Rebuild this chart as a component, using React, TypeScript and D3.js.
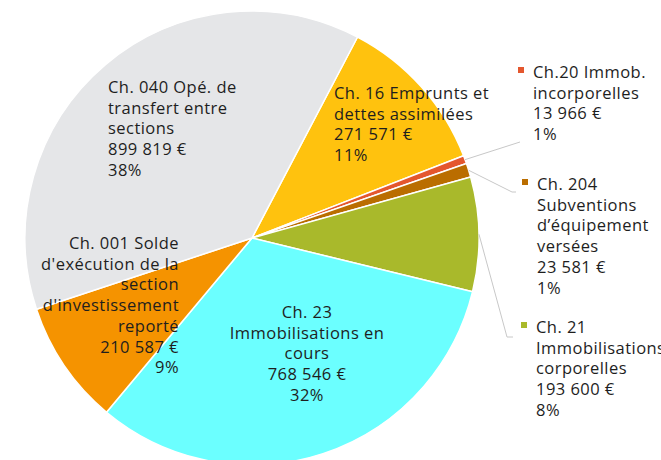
import React from "react";
import * as d3 from "d3";

const categories = [
  "Ch. 16 Emprunts et dettes assimilées",
  "Ch.20 Immob. incorporelles",
  "Ch. 204 Subventions d’équipement versées",
  "Ch. 21 Immobilisations corporelles",
  "Ch. 23 Immobilisations en cours",
  "Ch. 001 Solde d'exécution de la section d'investissement reporté",
  "Ch. 040 Opé. de transfert entre sections",
];
const values = [271571, 13966, 23581, 193600, 768546, 210587, 899819];
const valueLabels = ["271 571 €", "13 966 €", "23 581 €", "193 600 €", "768 546 €", "210 587 €", "899 819 €"];
const percentLabels = ["11%", "1%", "1%", "8%", "32%", "9%", "38%"];
const nameLines = [
  ["Ch. 16 Emprunts et", "dettes assimilées"],
  ["Ch.20 Immob.", "incorporelles"],
  ["Ch. 204", "Subventions", "d’équipement", "versées"],
  ["Ch. 21", "Immobilisations", "corporelles"],
  ["Ch. 23", "Immobilisations en", "cours"],
  ["Ch. 001 Solde", "d'exécution de la", "section", "d'investissement", "reporté"],
  ["Ch. 040 Opé. de", "transfert entre", "sections"],
];
const colors = ["#FFC20E", "#E4572E", "#BA6D00", "#A9B92B", "#6BFFFF", "#F59300", "#E5E6E8"];

// layout (not data)
const W = 661, H = 460;
const cx = 252, cy = 238, R = 227;
const startDeg = 27.7;
const FONT = "'Open Sans', sans-serif";
const FS = 16.5;
const LS = 0.45;
const LH = 20.7;

type Lbl = { x: number; y: number; anchor: "start" | "middle" | "end"; outside?: boolean; elbow?: [number, number][] };
const labelLayout: Lbl[] = [
  { x: 334, y: 99, anchor: "start" },
  { x: 533, y: 78, anchor: "start", outside: true, elbow: [[520, 142]] },
  { x: 537, y: 190, anchor: "start", outside: true, elbow: [[512, 192], [516, 192]] },
  { x: 536, y: 333, anchor: "start", outside: true, elbow: [[507, 337], [513, 337]] },
  { x: 307, y: 318, anchor: "middle" },
  { x: 179, y: 249, anchor: "end" },
  { x: 108, y: 93, anchor: "start" },
];

export default function App() {
  const pie = d3
    .pie<number>()
    .sort(null)
    .startAngle((startDeg * Math.PI) / 180)
    .endAngle((startDeg * Math.PI) / 180 + 2 * Math.PI);
  const arcs = pie(values);
  const arc = d3.arc<d3.PieArcDatum<number>>().innerRadius(0).outerRadius(R);

  return (
    <svg width={W} height={H} style={{ position: "absolute", left: 0, top: 0 }}>
      <g transform={`translate(${cx},${cy})`}>
        {arcs.map((a, i) => (
          <path key={i} d={arc(a) || ""} fill={colors[i]} stroke="#fff" strokeWidth={1.5} strokeLinejoin="round" />
        ))}
      </g>
      {arcs.map((a, i) => {
        const L = labelLayout[i];
        if (!L.outside || !L.elbow) return null;
        const mid = (a.startAngle + a.endAngle) / 2;
        const p0: [number, number] = [cx + Math.sin(mid) * R, cy - Math.cos(mid) * R];
        const pts = [p0, ...L.elbow];
        return (
          <polyline key={"c" + i} points={pts.map((p) => p.join(",")).join(" ")} fill="none" stroke="#c8c8c8" strokeWidth={1} />
        );
      })}
      {arcs.map((a, i) => {
        const L = labelLayout[i];
        const lines = [...nameLines[i], valueLabels[i], percentLabels[i]];
        return (
          <g key={"l" + i}>
            {L.outside && (
              <rect x={L.x - 15} y={L.y - 11} width={6} height={6} fill={colors[i]} />
            )}
            <text x={L.x} y={L.y} textAnchor={L.anchor} fontFamily={FONT} fontSize={FS} letterSpacing={LS} fill="#1e1e1e">
              {lines.map((t, j) => (
                <tspan key={j} x={L.x} y={L.y + j * LH}>
                  {t}
                </tspan>
              ))}
            </text>
          </g>
        );
      })}
    </svg>
  );
}
